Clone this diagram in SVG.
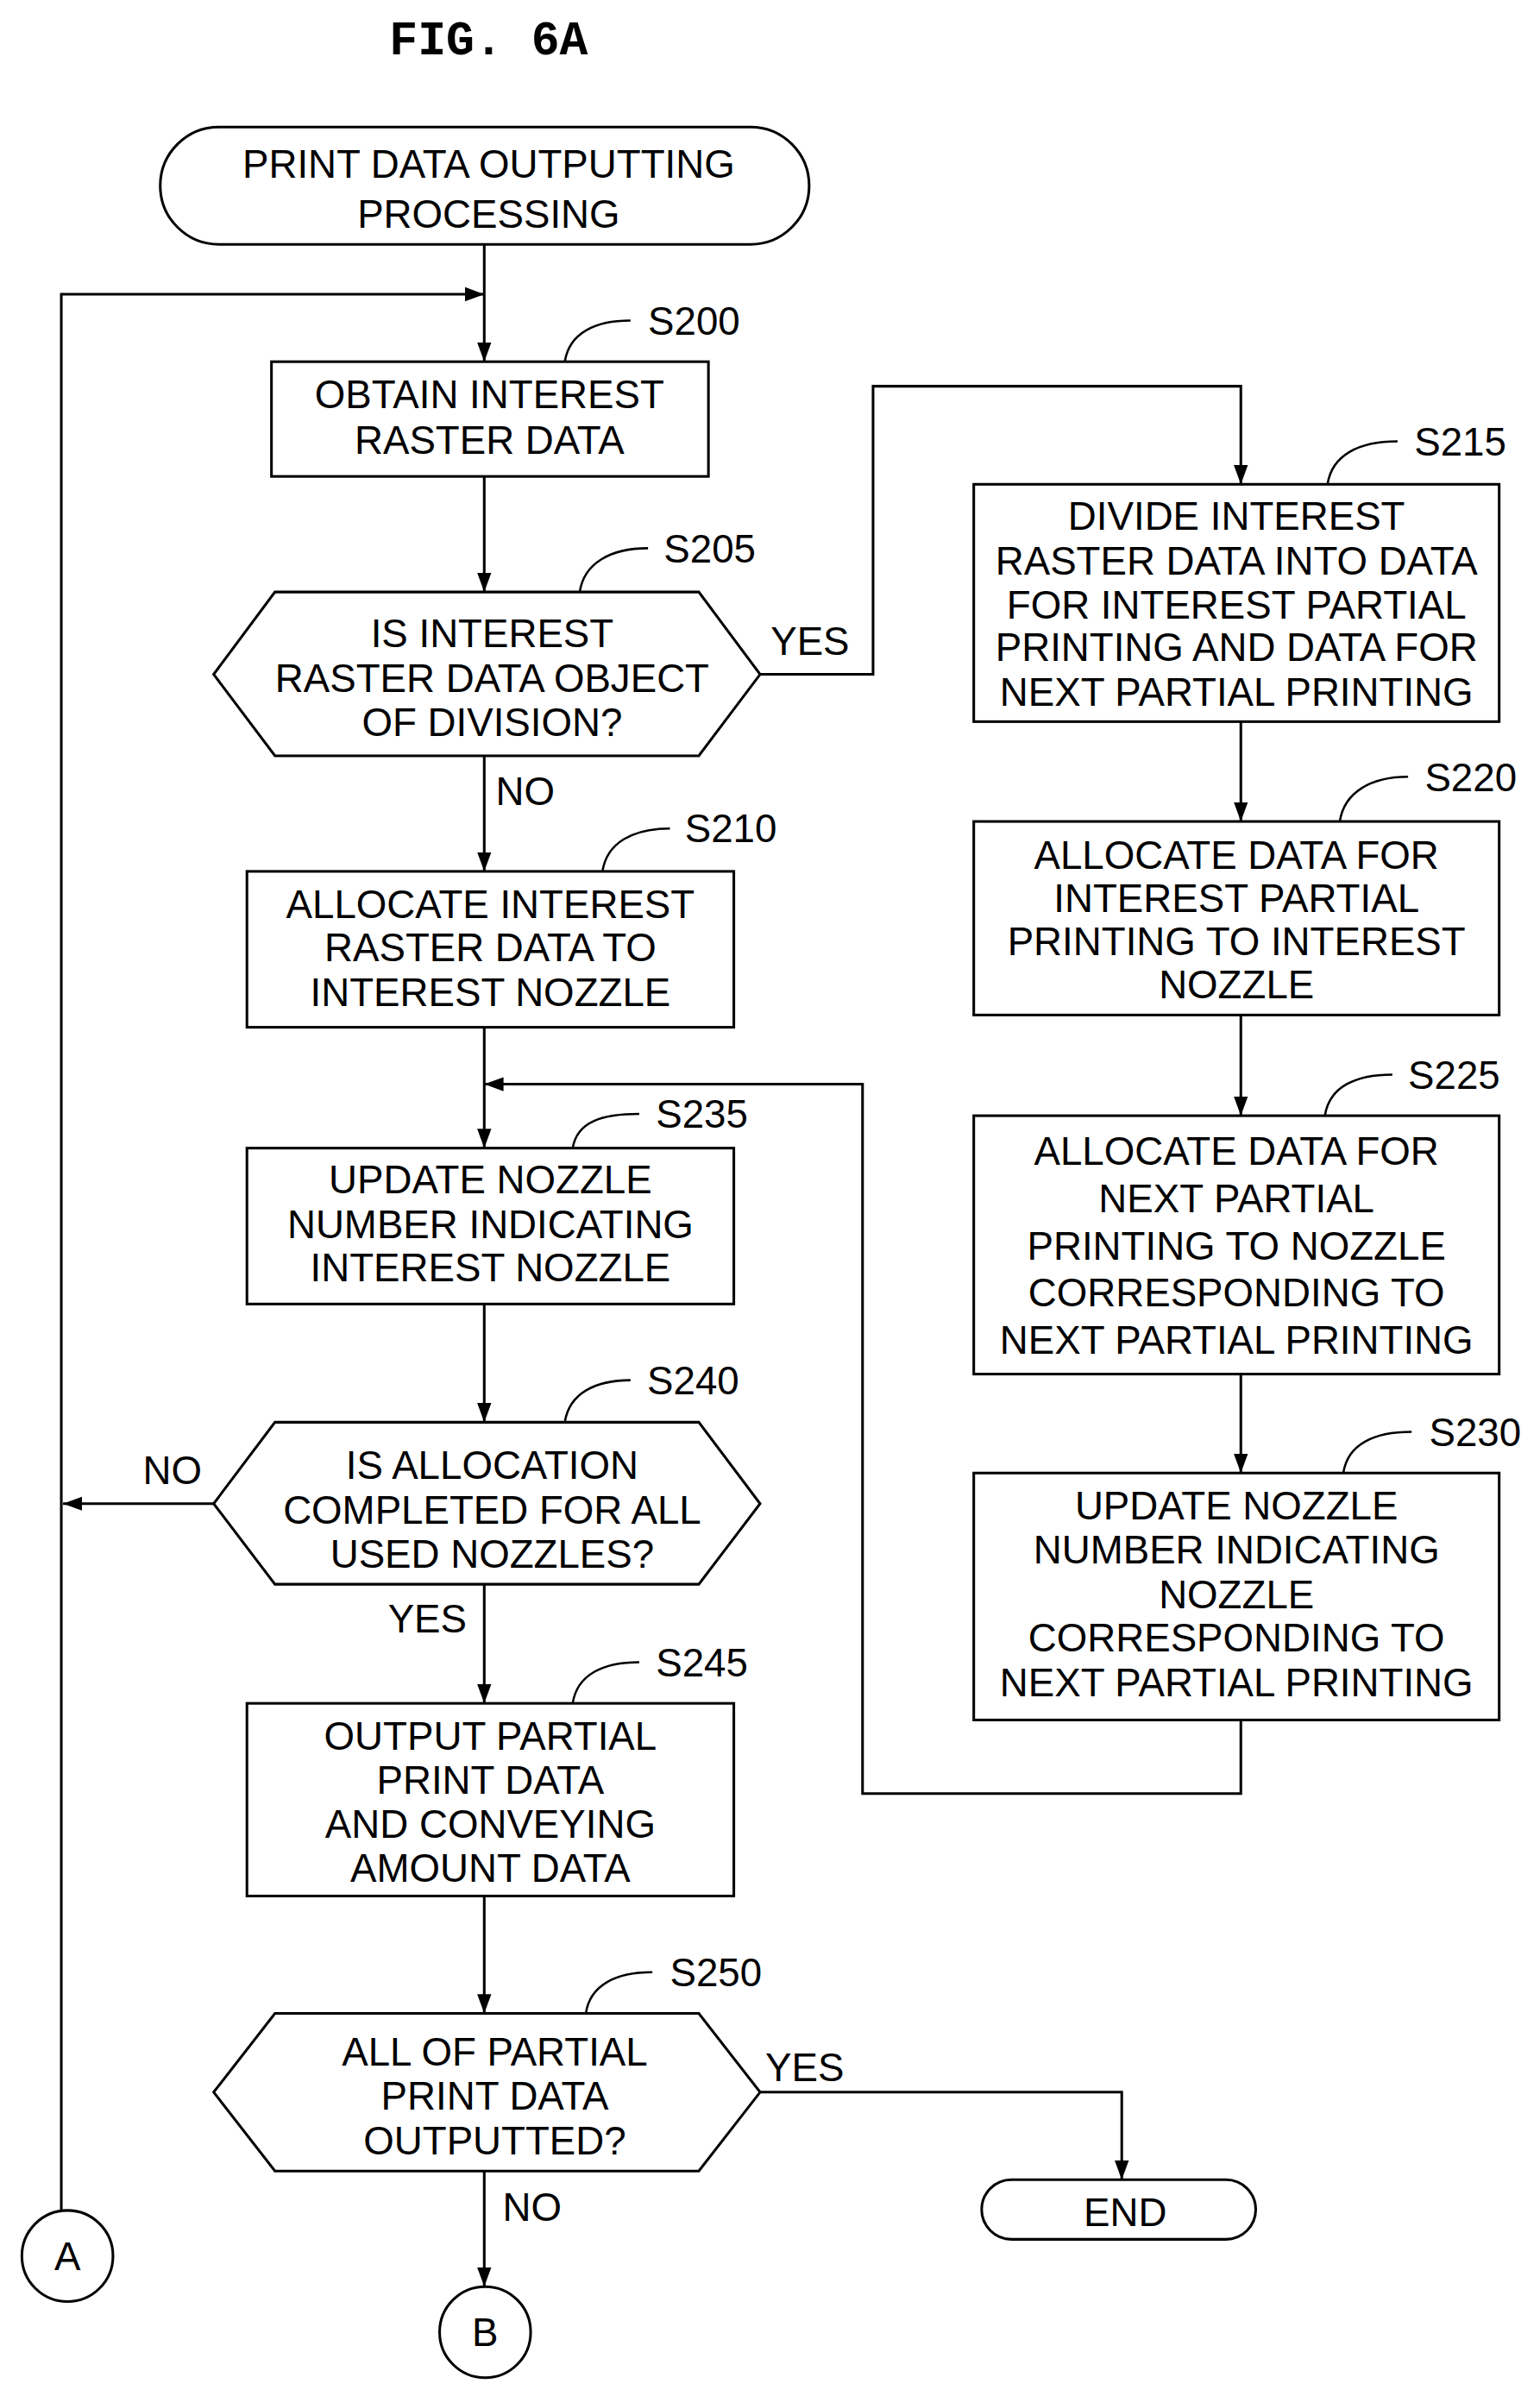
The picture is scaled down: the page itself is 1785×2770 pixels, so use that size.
<svg xmlns="http://www.w3.org/2000/svg" width="1785" height="2770" viewBox="0 0 1785 2770">
<style>
.n{fill:#fff;stroke:#000;stroke-width:3}
.t{font-family:"Liberation Sans",Arial,sans-serif;font-size:45px;text-anchor:middle;fill:#000}
.l{font-family:"Liberation Sans",Arial,sans-serif;font-size:45px;fill:#000}
.c{fill:none;stroke:#000;stroke-width:3}
.ld{fill:none;stroke:#000;stroke-width:2.5}
</style>
<defs>
<marker id="b" markerWidth="22" markerHeight="30" refX="30" refY="11" orient="auto" markerUnits="userSpaceOnUse" viewBox="0 0 30 22"><path d="M0,0L30,11L0,22z" fill="#000"/></marker></defs>
<g transform="scale(1.015)">
<text x="558" y="62" style="font-family:'Liberation Mono',monospace;font-weight:bold;font-size:54px;text-anchor:middle">FIG. 6A</text>
<g id="connectors">
<line class="c" x1="553" y1="279" x2="553" y2="413" marker-end="url(#b)"/>
<polyline class="c" points="70,2524 70,336 553,336" marker-end="url(#b)"/>
<line class="c" x1="553" y1="544" x2="553" y2="676" marker-end="url(#b)"/>
<polyline class="c" points="868,770 997,770 997,441 1417,441 1417,553" marker-end="url(#b)"/>
<line class="c" x1="1417" y1="824" x2="1417" y2="938" marker-end="url(#b)"/>
<line class="c" x1="1417" y1="1159" x2="1417" y2="1274" marker-end="url(#b)"/>
<line class="c" x1="1417" y1="1569" x2="1417" y2="1682" marker-end="url(#b)"/>
<polyline class="c" points="1417,1964 1417,2048 985,2048 985,1238 553,1238" marker-end="url(#b)"/>
<line class="c" x1="553" y1="863" x2="553" y2="995" marker-end="url(#b)"/>
<line class="c" x1="553" y1="1173" x2="553" y2="1311" marker-end="url(#b)"/>
<line class="c" x1="553" y1="1489" x2="553" y2="1624" marker-end="url(#b)"/>
<line class="c" x1="244" y1="1717" x2="72" y2="1717" marker-end="url(#b)"/>
<line class="c" x1="553" y1="1809" x2="553" y2="1945" marker-end="url(#b)"/>
<line class="c" x1="553" y1="2165" x2="553" y2="2299" marker-end="url(#b)"/>
<polyline class="c" points="868,2389 1281,2389 1281,2489" marker-end="url(#b)"/>
<line class="c" x1="553" y1="2479" x2="553" y2="2611" marker-end="url(#b)"/>
<text class="l" x="880" y="748">YES</text>
<text class="l" x="566" y="919">NO</text>
<text class="l" x="163" y="1695">NO</text>
<text class="l" x="443" y="1864">YES</text>
<text class="l" x="874" y="2376">YES</text>
<text class="l" x="574" y="2536">NO</text>
</g>
<g id="start"><rect class="n" x="183" y="145" width="741" height="134" rx="67"/><text class="t" x="558" y="203">PRINT DATA OUTPUTTING</text><text class="t" x="558" y="260">PROCESSING</text></g>
<g id="S200"><rect class="n" x="310" y="413" width="499" height="131"/><text class="t" x="559" y="466">OBTAIN INTEREST</text><text class="t" x="559" y="518">RASTER DATA</text><path class="ld" d="M645,413 C650,380 680,366 720,366"/><text class="l" x="740" y="382">S200</text></g>
<g id="S205"><polygon class="n" points="314,676 798,676 868,770 798,863 314,863 244,770"/><text class="t" x="562" y="739">IS INTEREST</text><text class="t" x="562" y="790">RASTER DATA OBJECT</text><text class="t" x="562" y="840">OF DIVISION?</text><path class="ld" d="M662,676 C667,643 697,626 740,626"/><text class="l" x="758" y="642">S205</text></g>
<g id="S210"><rect class="n" x="282" y="995" width="556" height="178"/><text class="t" x="560" y="1048">ALLOCATE INTEREST</text><text class="t" x="560" y="1098">RASTER DATA TO</text><text class="t" x="560" y="1149">INTEREST NOZZLE</text><path class="ld" d="M688,995 C693,962 723,946 765,946"/><text class="l" x="782" y="962">S210</text></g>
<g id="S215"><rect class="n" x="1112" y="553" width="600" height="271"/><text class="t" x="1412" y="605">DIVIDE INTEREST</text><text class="t" x="1412" y="656">RASTER DATA INTO DATA</text><text class="t" x="1412" y="706">FOR INTEREST PARTIAL</text><text class="t" x="1412" y="755">PRINTING AND DATA FOR</text><text class="t" x="1412" y="806">NEXT PARTIAL PRINTING</text><path class="ld" d="M1516,553 C1521,520 1551,504 1596,504"/><text class="l" x="1615" y="520">S215</text></g>
<g id="S220"><rect class="n" x="1112" y="938" width="600" height="221"/><text class="t" x="1412" y="992">ALLOCATE DATA FOR</text><text class="t" x="1412" y="1041">INTEREST PARTIAL</text><text class="t" x="1412" y="1091">PRINTING TO INTEREST</text><text class="t" x="1412" y="1140">NOZZLE</text><path class="ld" d="M1530,938 C1535,905 1565,887 1608,887"/><text class="l" x="1627" y="903">S220</text></g>
<g id="S225"><rect class="n" x="1112" y="1274" width="600" height="295"/><text class="t" x="1412" y="1330">ALLOCATE DATA FOR</text><text class="t" x="1412" y="1384">NEXT PARTIAL</text><text class="t" x="1412" y="1438">PRINTING TO NOZZLE</text><text class="t" x="1412" y="1492">CORRESPONDING TO</text><text class="t" x="1412" y="1546">NEXT PARTIAL PRINTING</text><path class="ld" d="M1513,1274 C1518,1241 1548,1227 1590,1227"/><text class="l" x="1608" y="1243">S225</text></g>
<g id="S230"><rect class="n" x="1112" y="1682" width="600" height="282"/><text class="t" x="1412" y="1735">UPDATE NOZZLE</text><text class="t" x="1412" y="1785">NUMBER INDICATING</text><text class="t" x="1412" y="1836">NOZZLE</text><text class="t" x="1412" y="1886">CORRESPONDING TO</text><text class="t" x="1412" y="1937">NEXT PARTIAL PRINTING</text><path class="ld" d="M1534,1682 C1539,1649 1569,1635 1612,1635"/><text class="l" x="1632" y="1651">S230</text></g>
<g id="S235"><rect class="n" x="282" y="1311" width="556" height="178"/><text class="t" x="560" y="1363">UPDATE NOZZLE</text><text class="t" x="560" y="1414">NUMBER INDICATING</text><text class="t" x="560" y="1463">INTEREST NOZZLE</text><path class="ld" d="M654,1311 C659,1280 689,1272 730,1272"/><text class="l" x="749" y="1288">S235</text></g>
<g id="S240"><polygon class="n" points="314,1624 798,1624 868,1717 798,1809 314,1809 244,1717"/><text class="t" x="562" y="1689">IS ALLOCATION</text><text class="t" x="562" y="1740">COMPLETED FOR ALL</text><text class="t" x="562" y="1790">USED NOZZLES?</text><path class="ld" d="M645,1624 C650,1591 680,1576 720,1576"/><text class="l" x="739" y="1592">S240</text></g>
<g id="S245"><rect class="n" x="282" y="1945" width="556" height="220"/><text class="t" x="560" y="1998">OUTPUT PARTIAL</text><text class="t" x="560" y="2048">PRINT DATA</text><text class="t" x="560" y="2099">AND CONVEYING</text><text class="t" x="560" y="2149">AMOUNT DATA</text><path class="ld" d="M654,1945 C659,1912 689,1898 730,1898"/><text class="l" x="749" y="1914">S245</text></g>
<g id="S250"><polygon class="n" points="314,2299 798,2299 868,2389 798,2479 314,2479 244,2389"/><text class="t" x="565" y="2359">ALL OF PARTIAL</text><text class="t" x="565" y="2409">PRINT DATA</text><text class="t" x="565" y="2460">OUTPUTTED?</text><path class="ld" d="M669,2299 C674,2266 704,2252 745,2252"/><text class="l" x="765" y="2268">S250</text></g>
<g id="end"><rect class="n" x="1121" y="2489" width="313" height="68" rx="34"/><text class="t" x="1285" y="2542">END</text></g>
<g id="A"><circle class="n" cx="77" cy="2576" r="52"/><text class="t" x="77" y="2592">A</text></g>
<g id="B"><circle class="n" cx="554" cy="2663" r="52"/><text class="t" x="554" y="2679">B</text></g>
</g>
</svg>
